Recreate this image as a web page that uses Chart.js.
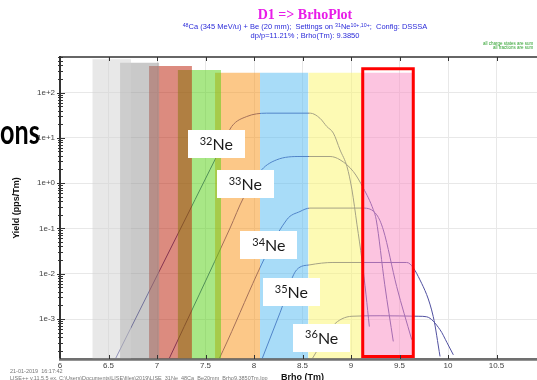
<!DOCTYPE html>
<html><head><meta charset="utf-8">
<script src="https://cdn.jsdelivr.net/npm/chart.js@4.4.1/dist/chart.umd.min.js"></script>
<style>
html,body{margin:0;padding:0;background:#fff;overflow:hidden;}
#wrap{position:relative;width:537px;height:380px;overflow:hidden;background:#fff;}
#c{position:absolute;left:0;top:0;}
.t{position:absolute;white-space:nowrap;}
sup{font-size:70%;vertical-align:0;position:relative;top:-0.45em;}
</style></head><body>
<div id="wrap">
<canvas id="c" width="560" height="390"></canvas>
<div class="t" style="left:0;width:610px;top:8px;text-align:center;font:bold 14px/14px 'Liberation Serif',serif;color:#e81be8;">D1 =&gt; BrhoPlot</div>
<div class="t" style="left:0;width:610px;top:23px;text-align:center;font:7.5px/8.5px 'Liberation Sans',Arial,sans-serif;color:#2b2bd9;"><sup>48</sup>Ca (345 MeV/u) + Be (20 mm);&nbsp; Settings on <sup>31</sup>Ne<sup>10+,10+</sup>;&nbsp; Config: DSSSA<br>dp/p=11.21% ; Brho(Tm): 9.3850</div>
<div class="t" style="left:483px;top:42px;font:4.5px/4px 'Liberation Sans',Arial,sans-serif;color:#2ca02c;">all charge states are sum<br>&nbsp;&nbsp;&nbsp;&nbsp;&nbsp;&nbsp;&nbsp;&nbsp;all fractions are sum</div>
<div class="t" style="left:0;top:114px;font:bold 34px/34px Lato,sans-serif;color:#000;transform:scaleX(0.74);transform-origin:0 0;">ons</div>
<div class="t" style="left:10px;top:368px;font:5.5px/6.5px 'Liberation Sans',Arial,sans-serif;color:#777;">21-01-2019&nbsp; 16:17:42<br>LISE++ v.11.5.5 ex. C:\Users\Documents\LISE\files\2019\LISE_31Ne_48Ca_Be20mm_Brho9.3850Tm.lpp</div>
</div>
<script>
// ---- tick labels ----
const brhoTicks = [6, 6.5, 7, 7.5, 8, 8.5, 9, 9.5, 10, 10.5];
const brhoTickLabels = ['6', '6.5', '7', '7.5', '8', '8.5', '9', '9.5', '10', '10.5'];
const yieldTickValues = [1e-3, 1e-2, 1e-1, 1e0, 1e1, 1e2];
const yieldTickLabels = ['1e-3', '1e-2', '1e-1', '1e+0', '1e+1', '1e+2'];

// ---- isotopes (categories) ----
const isotopeMass = ['32', '33', '34', '35', '36'];
const labelBrho  = [7.611, 7.910, 8.153, 8.385, 8.698];
const labelYield = [7.3, 0.955, 0.0424, 0.00388, 3.85e-4];

// ---- yield curves (Brho in Tm, yield in pps/Tm) ----
const ne32Brho  = [6.57, 7.392, 7.70, 7.77, 7.925, 8.13, 8.58, 8.68, 8.75, 8.818, 8.887, 8.959, 9.01, 9.062, 9.113, 9.155, 9.189];
const ne32Yield = [1.3e-4, 0.43, 9.0, 17.8, 29.5, 35, 35, 27, 17.8, 12.7, 5.4, 2.3, 0.71, 0.12, 0.020, 0.0034, 6.8e-4];

const ne33Brho  = [7.123, 7.753, 7.89, 8.079, 8.234, 8.474, 8.784, 8.887, 9.024, 9.127, 9.23, 9.26, 9.348, 9.436];
const ne33Yield = [1.3e-4, 0.1016, 0.467, 1.97, 3.27, 3.87, 3.87, 3.27, 1.80, 0.776, 0.258, 0.155, 0.0057, 3.2e-4];

const ne34Brho  = [7.639, 8.337, 8.474, 8.577, 9.124, 9.265, 9.333, 9.471, 9.626];
const ne34Yield = [1.3e-4, 0.155, 0.236, 0.281, 0.281, 0.2, 0.093, 0.0052, 3.5e-4];

const ne35Brho  = [8.082, 8.268, 8.44, 8.577, 8.814, 9.574, 9.711, 9.848, 9.918];
const ne35Yield = [1.3e-4, 1.37e-3, 0.0122, 0.0157, 0.0177, 0.0177, 0.0073, 0.00113, 1.49e-4];

const ne36Brho  = [8.598, 8.70, 8.814, 8.907, 9.01, 9.30, 9.70, 9.78, 9.918, 9.99, 10.055];
const ne36Yield = [1.3e-4, 3.0e-4, 7.1e-4, 1.01e-3, 1.15e-3, 1.18e-3, 1.15e-3, 1.12e-3, 5.8e-4, 3.0e-4, 1.62e-4];

// ---- acceptance bands ----
const bandFrom = [6.333, 6.619, 6.918, 7.213, 7.598, 8.062, 8.560, 9.103];
const bandTo   = [6.732, 7.024, 7.360, 7.660, 8.062, 8.560, 9.103, 9.653];
const bandTop  = [541, 455, 385, 314, 274, 274, 274, 274];

// ---- selected window (red frame) ----
const frameBrho  = [9.121, 9.121, 9.642, 9.642, 9.121];
const frameYield = [1.49e-4, 333, 333, 1.49e-4, 1.49e-4];

// ---- styles ----
const bandColors = [
  'rgba(209,209,209,0.5)', 'rgba(147,147,147,0.5)', 'rgba(185,24,0,0.5)', 'rgba(81,207,14,0.5)',
  'rgba(249,145,17,0.5)', 'rgba(81,185,241,0.5)', 'rgba(251,245,105,0.5)', 'rgba(249,137,193,0.5)'
];
const curveColor = 'rgb(80,80,160)';

function isDecade(v) {
  const e = Math.round(Math.log10(v));
  return Math.abs(v / Math.pow(10, e) - 1) < 1e-6;
}

const datasets = [];
bandFrom.forEach((b, i) => {
  datasets.push({
    data: [{x: b, y: bandTop[i]}, {x: bandTo[i], y: bandTop[i]}],
    fill: 'start', backgroundColor: bandColors[i], borderWidth: 0, borderColor: 'rgba(0,0,0,0)',
    pointRadius: 0, order: i + 1
  });
});
[[ne32Brho, ne32Yield], [ne33Brho, ne33Yield], [ne34Brho, ne34Yield], [ne35Brho, ne35Yield], [ne36Brho, ne36Yield]]
  .forEach(([bx, yy], i) => {
    datasets.push({
      data: bx.map((b, j) => ({x: b, y: yy[j]})),
      borderColor: curveColor, borderWidth: 1, pointRadius: 0, fill: false,
      cubicInterpolationMode: 'monotone', order: 20 + i
    });
  });
datasets.push({
  data: frameBrho.map((b, j) => ({x: b, y: frameYield[j]})),
  borderColor: '#ff0000', borderWidth: 3, pointRadius: 0, fill: false, tension: 0,
  borderCapStyle: 'square', borderJoinStyle: 'miter', order: 0
});

const framePlugin = {
  id: 'frame',
  afterDatasetsDraw(chart) {
    const {ctx, chartArea: a, scales: {x, y}} = chart;
    ctx.save();
    ctx.strokeStyle = '#333'; ctx.lineWidth = 1.5;
    ctx.beginPath(); ctx.moveTo(a.left, a.top); ctx.lineTo(a.right, a.top); ctx.stroke();
    ctx.lineWidth = 2;
    ctx.beginPath(); ctx.moveTo(a.left, a.top); ctx.lineTo(a.left, a.bottom + 1); ctx.stroke();
    ctx.strokeStyle = '#707070'; ctx.lineWidth = 2.5;
    ctx.beginPath(); ctx.moveTo(a.left - 1, a.bottom + 0.5); ctx.lineTo(a.right, a.bottom + 0.5); ctx.stroke();
    ctx.strokeStyle = '#333'; ctx.lineWidth = 1;
    x.ticks.forEach(t => {
      const px = Math.round(x.getPixelForValue(t.value)) + 0.5;
      ctx.beginPath(); ctx.moveTo(px, a.bottom); ctx.lineTo(px, a.bottom - 4);
      ctx.moveTo(px, a.top); ctx.lineTo(px, a.top + 4); ctx.stroke();
    });
    y.ticks.forEach(t => {
      const py = Math.round(y.getPixelForValue(t.value)) + 0.5;
      const big = isDecade(t.value);
      ctx.beginPath(); ctx.moveTo(a.left - (big ? 3 : 2), py); ctx.lineTo(a.left + (big ? 5 : 3), py); ctx.stroke();
    });
    ctx.restore();
  }
};

const labelPlugin = {
  id: 'neLabels',
  afterDatasetsDraw(chart) {
    const {ctx, scales: {x, y}} = chart;
    ctx.save();
    isotopeMass.forEach((m, i) => {
      const cx = x.getPixelForValue(labelBrho[i]);
      const cy = y.getPixelForValue(labelYield[i]);
      const w = 57, h = 28;
      ctx.fillStyle = '#fff';
      ctx.fillRect(Math.round(cx - w / 2), Math.round(cy - h / 2), w, h);
      ctx.font = '11px Lato'; const sw = ctx.measureText(m).width;
      ctx.font = '16px Lato'; const nw = ctx.measureText('Ne').width;
      const sx = cx - (sw + nw) / 2;
      ctx.fillStyle = '#1a1a1a'; ctx.textAlign = 'left'; ctx.textBaseline = 'alphabetic';
      ctx.font = '11px Lato'; ctx.fillText(m, sx, cy - h / 2 + 14.5);
      ctx.font = '16px Lato'; ctx.fillText('Ne', sx + sw, cy - h / 2 + 20);
    });
    ctx.restore();
  }
};

new Chart(document.getElementById('c'), {
  type: 'line',
  data: {datasets},
  plugins: [framePlugin, labelPlugin],
  options: {
    responsive: false, animation: false, devicePixelRatio: 1, events: [],
    layout: {padding: {top: 57, right: 15, left: 0, bottom: 0}},
    plugins: {legend: {display: false}, tooltip: {enabled: false}, title: {display: false}},
    scales: {
      x: {
        type: 'linear', position: 'bottom', min: 6, max: 11,
        afterBuildTicks: s => { s.ticks = brhoTicks.map(v => ({value: v})); },
        afterFit: s => { s.height = 31; },
        ticks: {
          autoSkip: false, maxRotation: 0, padding: 1.5, color: '#444',
          font: {family: 'Liberation Sans', size: 8},
          callback: v => { const k = brhoTicks.indexOf(v); return k >= 0 ? brhoTickLabels[k] : ''; }
        },
        grid: {color: '#e8e8e8', drawTicks: false, lineWidth: 1},
        border: {display: true, color: '#707070', width: 2},
        title: {display: true, text: 'Brho (Tm)', color: '#111',
          font: {family: 'Liberation Sans', size: 9, weight: 'bold', lineHeight: 1.2},
          padding: {top: 0, bottom: 7}}
      },
      y: {
        type: 'logarithmic', position: 'left', min: 1.31e-4, max: 608,
        afterBuildTicks: s => {
          const t = [];
          for (let e = -4; e <= 2; e++) {
            for (let k = 1; k <= 9; k++) {
              const v = k * Math.pow(10, e);
              if (v >= s.min && v <= s.max) t.push({value: v, major: k === 1});
            }
          }
          s.ticks = t;
        },
        afterFit: s => { s.width = 60; },
        ticks: {
          autoSkip: false, padding: 5, color: '#444',
          font: {family: 'Liberation Sans', size: 8},
          callback: v => {
            const k = yieldTickValues.findIndex(d => Math.abs(v / d - 1) < 1e-6);
            return k >= 0 ? yieldTickLabels[k] : '';
          }
        },
        grid: {
          drawTicks: false, lineWidth: 1,
          color: c => (c.tick && isDecade(c.tick.value)) ? '#e8e8e8' : 'rgba(0,0,0,0)'
        },
        border: {display: true, color: '#333', width: 2},
        title: {display: true, text: 'Yield (pps/Tm)', color: '#111',
          font: {family: 'Liberation Sans', size: 9, weight: 'bold', lineHeight: 1.2},
          padding: {top: 11.6, bottom: 0}}
      }
    }
  }
});
</script>
</body></html>
